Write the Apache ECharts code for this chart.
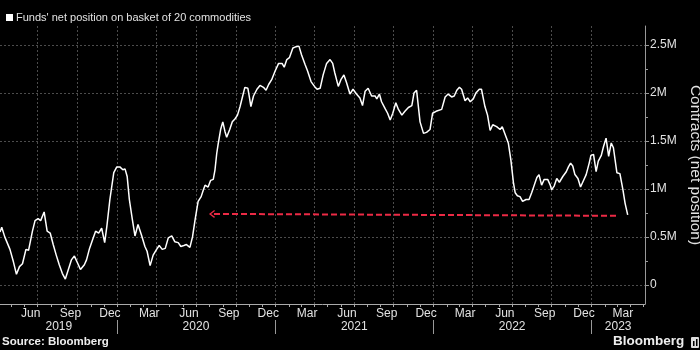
<!DOCTYPE html>
<html>
<head>
<meta charset="utf-8">
<script src="https://cdn.jsdelivr.net/npm/echarts@6/dist/echarts.min.js"></script>
<style>
  html, body { margin: 0; padding: 0; background: #000; }
  #chart { width: 700px; height: 350px; }
</style>
</head>
<body>
<div id="chart"></div>
<script>
// weekly net position, millions of contracts
var dates = [
  '2019-04-05','2019-04-09','2019-04-16','2019-04-28','2019-05-06','2019-05-13','2019-05-20','2019-05-27',
  '2019-06-04','2019-06-10','2019-06-19','2019-06-25','2019-07-02','2019-07-08','2019-07-16','2019-07-23',
  '2019-07-30','2019-08-06','2019-08-13','2019-08-20','2019-08-27','2019-09-03','2019-09-10','2019-09-17',
  '2019-09-24','2019-10-01','2019-10-08','2019-10-17','2019-10-22','2019-10-29','2019-11-05','2019-11-12',
  '2019-11-19','2019-11-26','2019-12-03','2019-12-08','2019-12-15','2019-12-24','2019-12-31','2020-01-07',
  '2020-01-14','2020-01-19','2020-01-24','2020-01-29','2020-02-05','2020-02-11','2020-02-18','2020-02-26',
  '2020-03-05','2020-03-10','2020-03-17','2020-03-24','2020-04-01','2020-04-07','2020-04-14','2020-04-21',
  '2020-04-28','2020-05-06','2020-05-13','2020-05-21','2020-05-27','2020-06-03','2020-06-09','2020-06-17',
  '2020-06-23','2020-06-29','2020-07-06','2020-07-13','2020-07-18','2020-07-22','2020-07-29','2020-08-04',
  '2020-08-10','2020-08-14','2020-08-18','2020-08-21','2020-08-27','2020-09-01','2020-09-06','2020-09-10',
  '2020-09-17','2020-09-23','2020-09-29','2020-10-05','2020-10-11','2020-10-17','2020-10-22','2020-10-29',
  '2020-11-01','2020-11-05','2020-11-11','2020-11-19','2020-11-26','2020-12-04','2020-12-10','2020-12-16',
  '2020-12-23','2020-12-31','2021-01-08','2021-01-16','2021-01-21','2021-01-27','2021-02-02','2021-02-10',
  '2021-02-15','2021-02-24','2021-03-02','2021-03-10','2021-03-16','2021-03-24','2021-04-01','2021-04-07',
  '2021-04-14','2021-04-21','2021-04-29','2021-05-07','2021-05-13','2021-05-18','2021-05-26','2021-06-01',
  '2021-06-08','2021-06-14','2021-06-22','2021-06-29','2021-07-07','2021-07-15','2021-07-21','2021-07-27',
  '2021-08-03','2021-08-11','2021-08-19','2021-08-23','2021-08-29','2021-09-03','2021-09-11','2021-09-17',
  '2021-09-23','2021-09-29','2021-10-06','2021-10-12','2021-10-20','2021-10-27','2021-11-04','2021-11-12',
  '2021-11-17','2021-11-23','2021-12-01','2021-12-09','2021-12-16','2021-12-24','2021-12-30','2022-01-07',
  '2022-01-20','2022-01-28','2022-02-04','2022-02-12','2022-02-18','2022-02-24','2022-03-02','2022-03-07',
  '2022-03-15','2022-03-21','2022-03-27','2022-04-03','2022-04-09','2022-04-17','2022-04-22','2022-04-30',
  '2022-05-06','2022-05-12','2022-05-18','2022-05-27','2022-06-04','2022-06-09','2022-06-14','2022-06-23',
  '2022-06-29','2022-07-05','2022-07-09','2022-07-14','2022-07-20','2022-07-26','2022-08-03','2022-08-10',
  '2022-08-16','2022-08-22','2022-08-28','2022-09-02','2022-09-08','2022-09-14','2022-09-22','2022-09-28',
  '2022-10-01','2022-10-07','2022-10-13','2022-10-19','2022-10-27','2022-11-04','2022-11-09','2022-11-14',
  '2022-11-19','2022-11-24','2022-12-01','2022-12-07','2022-12-12','2022-12-20','2022-12-27','2022-12-31',
  '2023-01-06','2023-01-12','2023-01-17','2023-01-24','2023-01-29','2023-02-04','2023-02-10','2023-02-16',
  '2023-02-21','2023-03-01','2023-03-08','2023-03-15','2023-03-20','2023-03-26'
];
var values = [
  0.55,0.60,0.50,0.37,0.24,0.11,0.19,0.22,
  0.37,0.36,0.56,0.67,0.69,0.67,0.76,0.56,
  0.54,0.42,0.31,0.21,0.12,0.06,0.16,0.26,
  0.30,0.23,0.16,0.21,0.26,0.38,0.47,0.56,
  0.54,0.59,0.44,0.61,0.89,1.17,1.23,1.23,
  1.20,1.21,1.13,0.89,0.68,0.51,0.63,0.52,
  0.40,0.35,0.20,0.31,0.37,0.41,0.37,0.38,
  0.49,0.51,0.45,0.44,0.40,0.41,0.42,0.39,
  0.50,0.68,0.87,0.92,0.99,1.04,1.02,1.09,
  1.10,1.20,1.37,1.46,1.62,1.70,1.60,1.54,
  1.62,1.70,1.73,1.77,1.86,1.97,2.06,2.05,
  1.97,1.86,1.97,2.04,2.08,2.06,2.03,2.09,
  2.14,2.23,2.31,2.31,2.27,2.35,2.37,2.47,
  2.48,2.49,2.40,2.30,2.23,2.12,2.07,2.04,
  2.05,2.19,2.31,2.35,2.31,2.21,2.07,2.14,
  2.19,2.11,1.99,2.04,1.99,1.95,1.87,2.02,
  2.05,1.97,1.97,1.94,1.99,1.91,1.84,1.79,
  1.72,1.79,1.90,1.83,1.77,1.81,1.85,1.87,
  2.00,2.03,1.70,1.58,1.59,1.62,1.79,1.81,
  1.83,1.96,1.99,1.96,1.97,2.03,2.06,2.04,
  1.92,1.95,1.91,1.94,2.00,2.04,2.04,1.86,
  1.77,1.61,1.67,1.65,1.62,1.65,1.59,1.48,
  1.30,1.06,0.96,0.93,0.92,0.87,0.89,0.89,
  0.96,1.04,1.12,1.15,1.04,1.10,1.10,1.04,
  0.99,1.03,1.11,1.07,1.13,1.18,1.23,1.27,
  1.24,1.15,1.11,1.02,1.07,1.15,1.27,1.35,
  1.36,1.18,1.29,1.35,1.44,1.53,1.34,1.48,
  1.43,1.17,1.16,0.99,0.85,0.73
];

// red dashed arrow: from the latest level back to the same level in 2020
var arrowFrom = ['2023-02-27', 0.72];
var arrowTo = ['2020-08-07', 0.74];

var seriesName = "Funds' net position on basket of 20 commodities";
var xMin = '2019-04-05', xMax = '2023-05-05';
var monthLabelDates = ['2019-06-15','2019-09-15','2019-12-15','2020-03-15','2020-06-15','2020-09-15',
  '2020-12-15','2021-03-15','2021-06-15','2021-09-15','2021-12-15','2022-03-15','2022-06-15',
  '2022-09-15','2022-12-15','2023-03-15'];
var monthTicks = ['2019-05-01','2019-06-01','2019-07-01','2019-08-01','2019-09-01','2019-10-01','2019-11-01','2019-12-01',
  '2020-01-01','2020-02-01','2020-03-01','2020-04-01','2020-05-01','2020-06-01','2020-07-01','2020-08-01','2020-09-01','2020-10-01','2020-11-01','2020-12-01',
  '2021-01-01','2021-02-01','2021-03-01','2021-04-01','2021-05-01','2021-06-01','2021-07-01','2021-08-01','2021-09-01','2021-10-01','2021-11-01','2021-12-01',
  '2022-01-01','2022-02-01','2022-03-01','2022-04-01','2022-05-01','2022-06-01','2022-07-01','2022-08-01','2022-09-01','2022-10-01','2022-11-01','2022-12-01',
  '2023-01-01','2023-02-01','2023-03-01','2023-04-01','2023-05-01'];
var quarterStarts = ['2019-07-01','2019-10-01','2020-01-01','2020-04-01','2020-07-01','2020-10-01',
  '2021-01-01','2021-04-01','2021-07-01','2021-10-01','2022-01-01','2022-04-01','2022-07-01',
  '2022-10-01','2023-01-01'];
var yearStarts = ['2020-01-01','2021-01-01','2022-01-01','2023-01-01'];
var yearLabelDates = ['2019-08-19','2020-07-01','2021-07-02','2022-07-02','2023-03-04'];
var yTicks = [0, 0.5, 1, 1.5, 2, 2.5];
var yMinorTicks = [0.25, 0.75, 1.25, 1.75, 2.25];
var monthNames = ['Jan','Feb','Mar','Apr','May','Jun','Jul','Aug','Sep','Oct','Nov','Dec'];

// 'YYYY-MM-DD' -> UTC ms, used on a plain value axis
function ts(s) {
  var p = s.split('-');
  return Date.UTC(+p[0], +p[1] - 1, +p[2]);
}

var FONT = 'Liberation Sans';
var labelColor = '#e2e2e2';
var gridColor = '#4c4c4c';

var chart = echarts.init(document.getElementById('chart'));

chart.setOption({
  backgroundColor: '#000',
  animation: false,
  textStyle: { fontFamily: FONT },
  grid: { left: 0, right: 55, top: 26, bottom: 46, containLabel: false, outerBoundsMode: 'none' },
  legend: {
    data: [seriesName],
    left: 1, top: 7,
    icon: 'rect', itemWidth: 7, itemHeight: 7, itemGap: 4,
    textStyle: { color: labelColor, fontSize: 11, fontFamily: FONT, padding: [0, 0, 0, -2] }
  },
  xAxis: [{
    type: 'value', min: ts(xMin), max: ts(xMax),
    axisLine: { onZero: false, lineStyle: { color: '#aaa', width: 1 } },
    axisTick: { customValues: monthTicks.map(ts), length: 3, lineStyle: { color: '#aaa' } },
    axisLabel: {
      customValues: monthLabelDates.map(ts), margin: 4, color: labelColor, fontSize: 12, fontFamily: FONT,
      formatter: function (v) { return monthNames[new Date(v).getUTCMonth()]; }
    },
    splitLine: { show: false }
  }, {
    // quarterly dotted gridlines
    type: 'value', min: ts(xMin), max: ts(xMax), position: 'bottom',
    axisLine: { show: false, onZero: false },
    axisTick: { show: false, customValues: quarterStarts.map(ts) },
    axisLabel: { show: false },
    splitLine: { show: true, lineStyle: { color: gridColor, type: [2, 2] } }
  }, {
    // year row
    type: 'value', min: ts(xMin), max: ts(xMax), position: 'bottom', offset: 16,
    axisLine: { show: false, onZero: false },
    axisTick: { customValues: yearStarts.map(ts), length: 14, lineStyle: { color: '#999' } },
    axisLabel: {
      customValues: yearLabelDates.map(ts), margin: 1, color: labelColor, fontSize: 12, fontFamily: FONT,
      formatter: function (v) { return String(new Date(v).getUTCFullYear()); }
    },
    splitLine: { show: false }
  }],
  yAxis: [{
    type: 'value', position: 'right', min: -0.2, max: 2.7,
    name: 'Contracts (net position)', nameLocation: 'middle', nameRotate: -90, nameGap: 36,
    nameTextStyle: { color: labelColor, fontSize: 15.5, fontFamily: FONT },
    axisLine: { show: true, onZero: false, lineStyle: { color: '#999' } },
    axisTick: { show: true, customValues: yTicks, length: 4, lineStyle: { color: '#999' } },
    axisLabel: {
      customValues: yTicks, margin: 5, color: labelColor, fontSize: 12, fontFamily: FONT,
      formatter: function (v) { return v === 0 ? '0' : v + 'M'; }
    },
    splitLine: { show: true, lineStyle: { color: gridColor, type: [2, 2] } }
  }, {
    type: 'value', position: 'right', min: -0.2, max: 2.7,
    axisLine: { show: false, onZero: false },
    axisTick: { show: true, customValues: yMinorTicks, length: 3, lineStyle: { color: '#999' } },
    axisLabel: { show: false },
    splitLine: { show: false }
  }],
  series: [{
    name: seriesName,
    type: 'line',
    xAxisIndex: 0, yAxisIndex: 0,
    showSymbol: false,
    color: '#fff',
    lineStyle: { color: '#fff', width: 1.5 },
    data: dates.map(function (d, i) { return [ts(d), values[i]]; }),
    markLine: {
      silent: true,
      animation: false,
      symbol: ['none', 'path://M5,0 L10,8 L8.6,9.2 L5,3.2 L1.4,9.2 L0,8 Z'],
      symbolSize: [8, 6],
      label: { show: false },
      lineStyle: { color: '#ec2a45', width: 2, type: [6, 3] },
      data: [[{ coord: [ts(arrowFrom[0]), arrowFrom[1]] }, { coord: [ts(arrowTo[0]), arrowTo[1]] }]]
    }
  }],
  graphic: [{
    type: 'text', left: 2, top: 336,
    style: { text: 'Source: Bloomberg', fill: '#eee', font: 'bold 11.5px "Liberation Sans"' }
  }, {
    type: 'text', left: 613, top: 334,
    style: { text: 'Bloomberg', fill: '#eee', font: 'bold 13.5px "Liberation Sans"' }
  }, {
    type: 'rect', shape: { x: 691, y: 337, width: 8, height: 11, r: 1 },
    style: { fill: '#ddd' }
  }, {
    type: 'rect', shape: { x: 693, y: 341, width: 1.5, height: 5 },
    style: { fill: '#000' }
  }, {
    type: 'rect', shape: { x: 696, y: 339, width: 1.5, height: 7 },
    style: { fill: '#000' }
  }]
});
</script>
</body>
</html>
